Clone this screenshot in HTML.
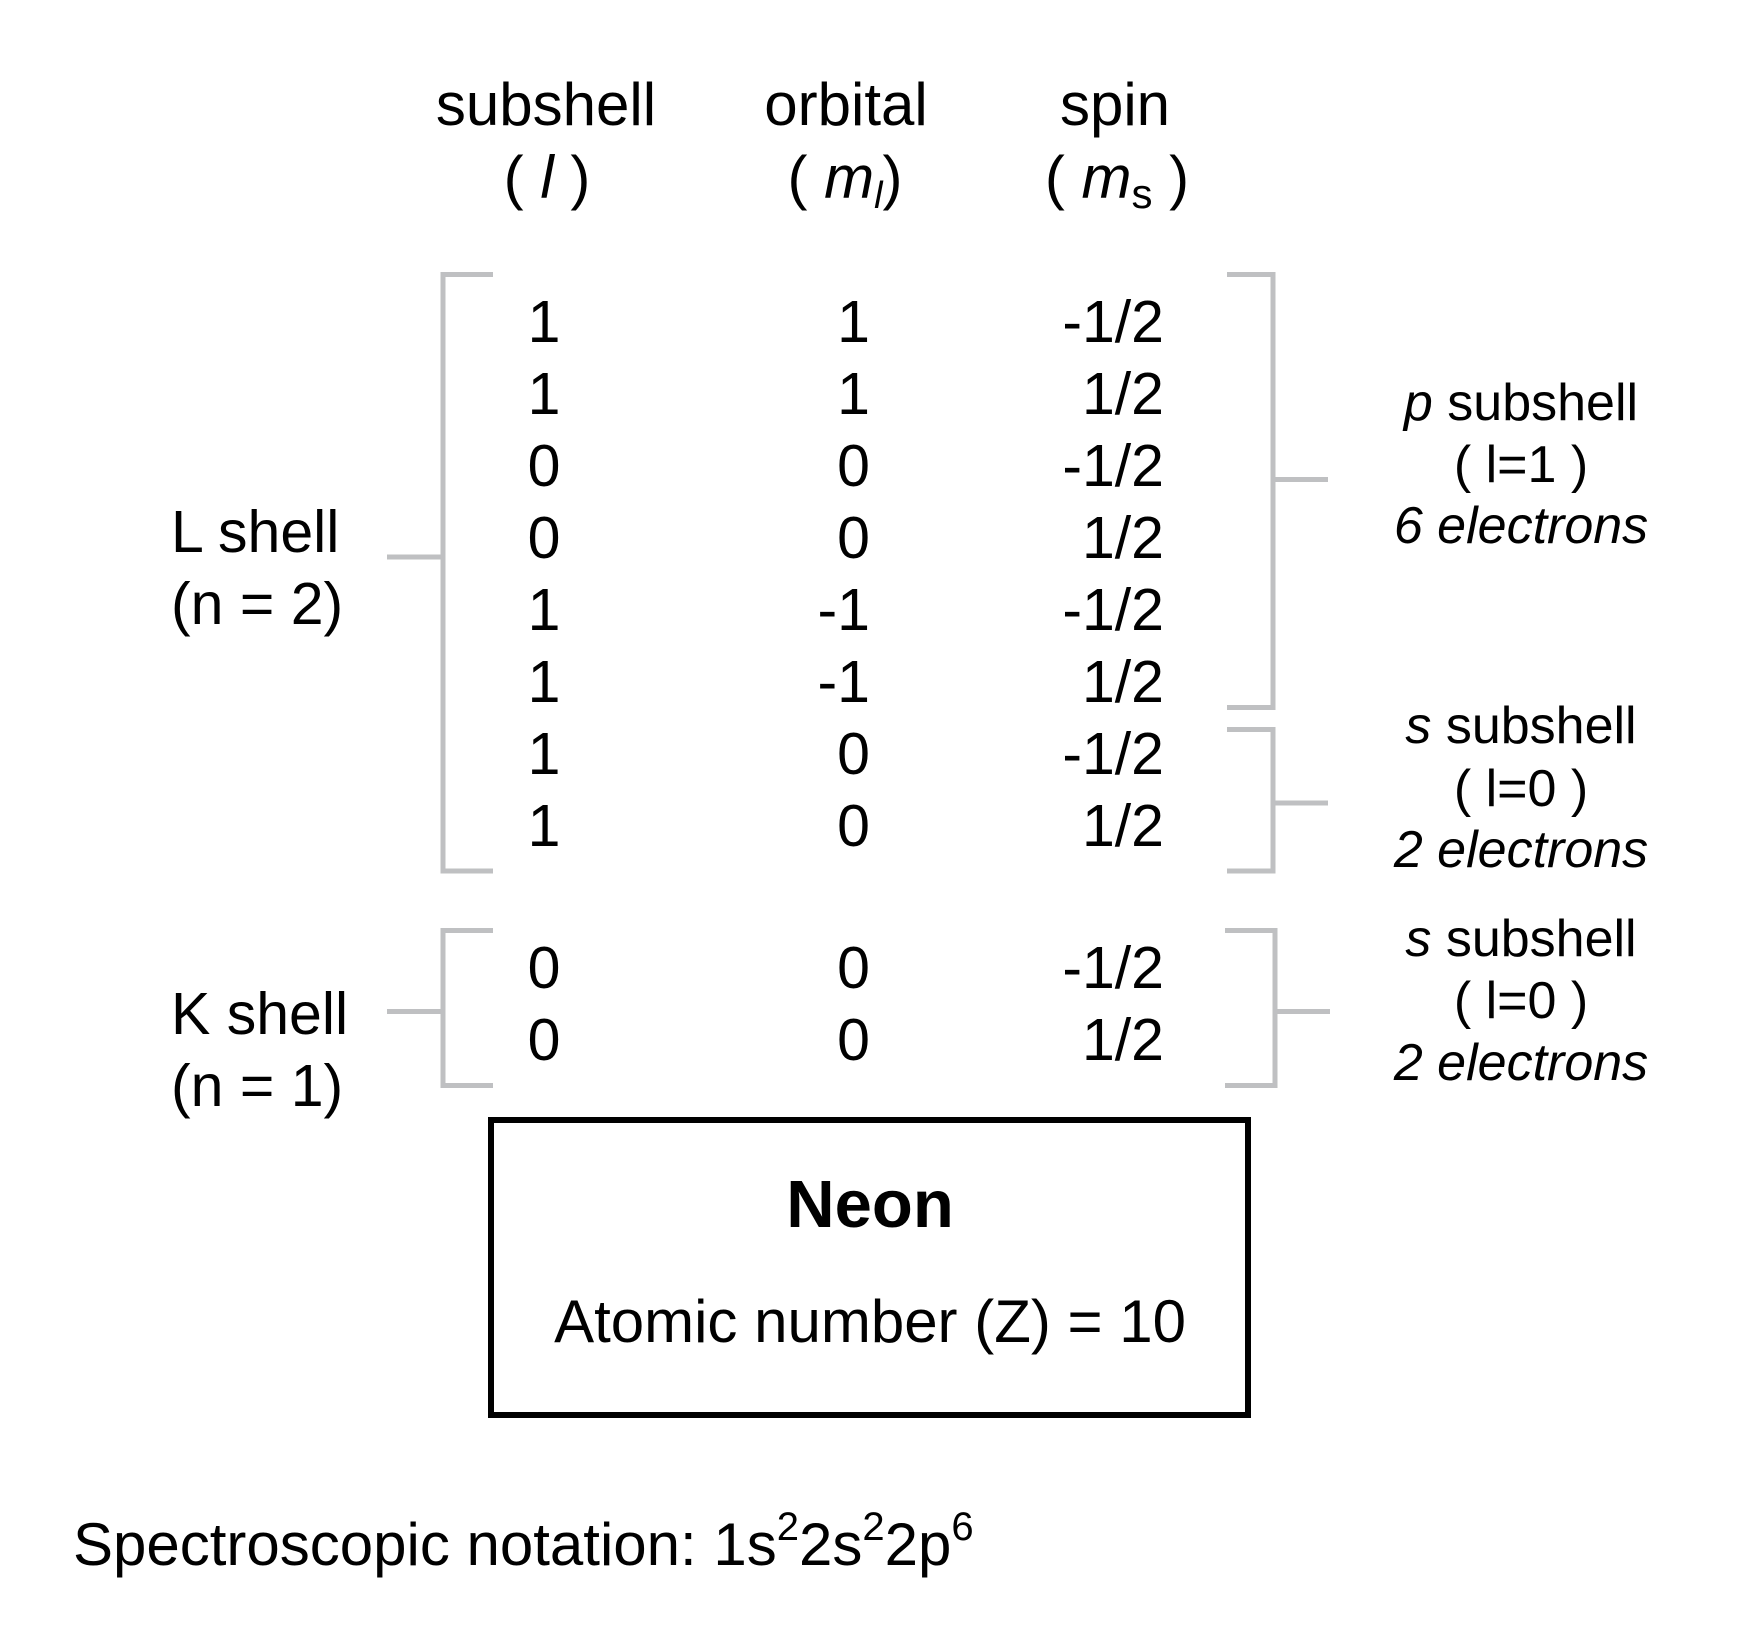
<!DOCTYPE html>
<html>
<head>
<meta charset="utf-8">
<style>
  html, body { margin: 0; padding: 0; background: #ffffff; }
  svg { display: block; }
  text { font-family: "Liberation Sans", Arial, Helvetica, sans-serif; fill: #000; }
</style>
</head>
<body>
<svg width="1739" height="1636" viewBox="0 0 1739 1636" xmlns="http://www.w3.org/2000/svg">
  <rect x="0" y="0" width="1739" height="1636" fill="#ffffff"/>

  <!-- Column headers -->
  <g font-size="60">
    <text x="546" y="125" text-anchor="middle">subshell</text>
    <text x="846" y="125" text-anchor="middle">orbital</text>
    <text x="1115" y="125" text-anchor="middle">spin</text>

    <text x="547" y="198" text-anchor="middle">( <tspan font-style="italic">l</tspan> )</text>
    <text x="845" y="198" text-anchor="middle">( <tspan font-style="italic">m</tspan><tspan font-style="italic" font-size="38" dy="10">l</tspan><tspan dy="-10">)</tspan></text>
    <text x="1117" y="198" text-anchor="middle">( <tspan font-style="italic">m</tspan><tspan font-size="42" dy="10">s</tspan><tspan dy="-10"> )</tspan></text>
  </g>

  <!-- Brackets -->
  <g fill="none" stroke="#bfc0c2" stroke-width="5">
    <path d="M493 274.5 H443 V871 H493"/>
    <path d="M387 557 H443"/>
    <path d="M493 930.5 H443 V1085.5 H493"/>
    <path d="M387 1011.5 H443"/>
    <path d="M1227 274.5 H1273 V707.5 H1227"/>
    <path d="M1273 479.5 H1328"/>
    <path d="M1227 729.5 H1273 V871 H1227"/>
    <path d="M1273 803 H1328"/>
    <path d="M1225 930.5 H1275 V1085.5 H1225"/>
    <path d="M1275 1011.5 H1330"/>
  </g>

  <!-- Left labels -->
  <g font-size="59">
    <text x="171" y="552">L shell</text>
    <text x="171" y="624">(n = 2)</text>
    <text x="171" y="1034">K shell</text>
    <text x="171" y="1106">(n = 1)</text>
  </g>

  <!-- Table values -->
  <g font-size="59">
    <g text-anchor="middle">
      <text x="544" y="342">1</text>
      <text x="544" y="414">1</text>
      <text x="544" y="486">0</text>
      <text x="544" y="558">0</text>
      <text x="544" y="630">1</text>
      <text x="544" y="702">1</text>
      <text x="544" y="774">1</text>
      <text x="544" y="846">1</text>
      <text x="544" y="988">0</text>
      <text x="544" y="1060">0</text>
    </g>
    <g text-anchor="end">
      <text x="870" y="342">1</text>
      <text x="870" y="414">1</text>
      <text x="870" y="486">0</text>
      <text x="870" y="558">0</text>
      <text x="870" y="630">-1</text>
      <text x="870" y="702">-1</text>
      <text x="870" y="774">0</text>
      <text x="870" y="846">0</text>
      <text x="870" y="988">0</text>
      <text x="870" y="1060">0</text>
    </g>
    <g text-anchor="end">
      <text x="1164" y="342">-1/2</text>
      <text x="1164" y="414">1/2</text>
      <text x="1164" y="486">-1/2</text>
      <text x="1164" y="558">1/2</text>
      <text x="1164" y="630">-1/2</text>
      <text x="1164" y="702">1/2</text>
      <text x="1164" y="774">-1/2</text>
      <text x="1164" y="846">1/2</text>
      <text x="1164" y="988">-1/2</text>
      <text x="1164" y="1060">1/2</text>
    </g>
  </g>

  <!-- Right labels -->
  <g font-size="52" text-anchor="middle">
    <text x="1521" y="420"><tspan font-style="italic">p</tspan> subshell</text>
    <text x="1521" y="482">( l=1 )</text>
    <text x="1521" y="543" font-style="italic">6 electrons</text>

    <text x="1521" y="743"><tspan font-style="italic">s</tspan> subshell</text>
    <text x="1521" y="806">( l=0 )</text>
    <text x="1521" y="867" font-style="italic">2 electrons</text>

    <text x="1521" y="956"><tspan font-style="italic">s</tspan> subshell</text>
    <text x="1521" y="1018">( l=0 )</text>
    <text x="1521" y="1080" font-style="italic">2 electrons</text>
  </g>

  <!-- Neon box -->
  <rect x="491" y="1120" width="757" height="295" fill="none" stroke="#000" stroke-width="6"/>
  <text x="870" y="1227" font-size="67" font-weight="bold" text-anchor="middle">Neon</text>
  <text x="870" y="1342" font-size="60" text-anchor="middle">Atomic number (Z) = 10</text>

  <!-- Spectroscopic notation -->
  <text x="73" y="1565" font-size="60">Spectroscopic notation: 1s<tspan font-size="40" dy="-25">2</tspan><tspan dy="25">2s</tspan><tspan font-size="40" dy="-25">2</tspan><tspan dy="25">2p</tspan><tspan font-size="40" dy="-25">6</tspan></text>
</svg>
</body>
</html>
